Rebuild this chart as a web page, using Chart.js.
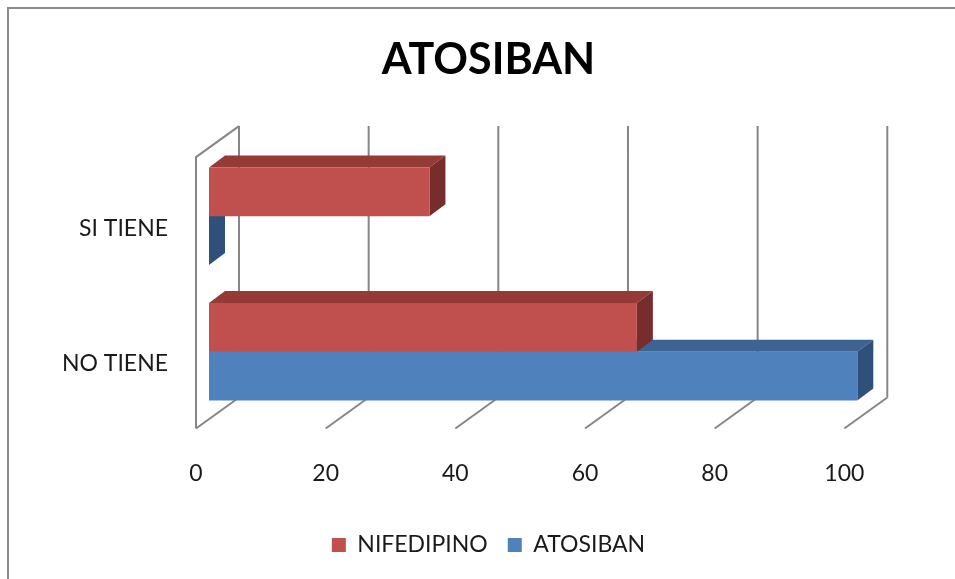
<!DOCTYPE html>
<html lang="es">
<head>
<meta charset="utf-8">
<title>ATOSIBAN</title>
<script src="https://cdn.jsdelivr.net/npm/chart.js@4/dist/chart.umd.min.js"></script>
<style>
  html, body { margin: 0; padding: 0; background: #fff; }
  #wrap { width: 955px; height: 579px; }
  canvas { display: block; }
</style>
</head>
<body>
<div id="wrap"><canvas id="chart" width="955" height="579"></canvas></div>
<script>
// Categories, series and value-axis ticks
const categories = ['SI TIENE', 'NO TIENE'];
const seriesNames = ['NIFEDIPINO', 'ATOSIBAN'];
const nifedipino = [34, 66];
const atosiban = [0, 100];
const valueTicks = [0, 20, 40, 60, 80, 100];

// Face colours for the pseudo-3D bars: front, top, side
const shades = [
  { front: '#C0504D', top: '#943A37', side: '#772D2B' },
  { front: '#4F81BD', top: '#3D6393', side: '#2F5179' }
];

// Perspective offsets (pixels)
const BAR_DX = 16, BAR_DY = -12;       // depth of each bar
const FLOOR_DX = -13;                   // front edge of the floor vs bar front plane
const WALL_DX = 30;                     // back wall vs bar front plane
const GRID_COLOR = '#868686';

const frame = {
  id: 'frame',
  beforeDraw(chart) {
    const { ctx } = chart;
    ctx.save();
    ctx.fillStyle = '#fff';
    ctx.fillRect(0, 0, chart.width, chart.height);
    ctx.strokeStyle = '#8c8c8c';
    ctx.lineWidth = 2;
    ctx.strokeRect(8, 8, chart.width + 40, chart.height + 40);
    ctx.restore();
  }
};

function poly(ctx, pts, color) {
  ctx.beginPath();
  ctx.moveTo(pts[0][0], pts[0][1]);
  for (let i = 1; i < pts.length; i++) ctx.lineTo(pts[i][0], pts[i][1]);
  ctx.closePath();
  ctx.fillStyle = color;
  ctx.fill();
}

const box3d = {
  id: 'box3d',
  beforeDatasetsDraw(chart) {
    const { ctx, chartArea: a } = chart;
    const xs = chart.scales.x;
    const frontTop = a.top + 8.5, frontBottom = a.bottom + 9;
    const backTop = a.top - 22.5, backBottom = a.bottom - 22;

    ctx.save();
    ctx.strokeStyle = GRID_COLOR;
    ctx.lineWidth = 2;
    ctx.lineCap = 'butt';
    ctx.beginPath();
    xs.ticks.forEach(t => {
      const px = xs.getPixelForValue(t.value);
      // back wall gridline
      ctx.moveTo(px + WALL_DX, backTop);
      ctx.lineTo(px + WALL_DX, backBottom);
      // floor gridline
      ctx.moveTo(px + FLOOR_DX, frontBottom);
      ctx.lineTo(px + WALL_DX, backBottom);
    });
    // side wall outline
    const x0 = xs.getPixelForValue(0);
    ctx.moveTo(x0 + FLOOR_DX, frontBottom);
    ctx.lineTo(x0 + FLOOR_DX, frontTop);
    ctx.lineTo(x0 + WALL_DX, backTop);
    ctx.stroke();

    // top and side faces, lower series first so the upper one sits over it
    for (let d = chart.data.datasets.length - 1; d >= 0; d--) {
      const meta = chart.getDatasetMeta(d);
      const c = shades[d];
      meta.data.forEach(bar => {
        const p = bar.getProps(['x', 'y', 'base', 'height'], true);
        const top = p.y - p.height / 2, bottom = p.y + p.height / 2;
        const l = Math.min(p.base, p.x), r = Math.max(p.base, p.x);
        poly(ctx, [[l, top], [r, top], [r + BAR_DX, top + BAR_DY], [l + BAR_DX, top + BAR_DY]], c.top);
        poly(ctx, [[r, top], [r + BAR_DX, top + BAR_DY], [r + BAR_DX, bottom + BAR_DY], [r, bottom]], c.side);
      });
    }
    ctx.restore();
  }
};

function build() {
  Chart.defaults.font.family = 'Lato, "Open Sans", sans-serif';
  Chart.defaults.color = '#1a1a1a';

  new Chart(document.getElementById('chart'), {
    type: 'bar',
    data: {
      labels: categories,
      datasets: [
        { label: seriesNames[0], data: nifedipino, backgroundColor: shades[0].front, borderWidth: 0 },
        { label: seriesNames[1], data: atosiban, backgroundColor: shades[1].front, borderWidth: 0 }
      ]
    },
    options: {
      indexAxis: 'y',
      responsive: false,
      animation: false,
      events: [],
      categoryPercentage: 0.72,
      barPercentage: 1.0,
      layout: { padding: { top: 8, left: 22, right: 0, bottom: 12.5 } },
      scales: {
        x: {
          type: 'linear',
          min: 0,
          max: 100,
          afterBuildTicks(s) { s.ticks = valueTicks.map(v => ({ value: v })); },
          grid: { display: false, drawTicks: false },
          border: { display: false },
          ticks: { padding: 40, labelOffset: -13, font: { size: 23 }, color: '#1a1a1a' },
          afterFit(s) { s.height = 94; }
        },
        y: {
          type: 'category',
          grid: { display: false, drawTicks: false },
          border: { display: false },
          ticks: { padding: 41, labelOffset: 12, font: { size: 23 }, color: '#1a1a1a' },
          afterFit(s) { s.width = 187; }
        },
        yRight: {
          type: 'category',
          position: 'right',
          labels: categories,
          grid: { display: false, drawTicks: false },
          border: { display: false },
          ticks: { display: false },
          afterFit(s) { s.width = 97.7; }
        }
      },
      plugins: {
        title: {
          display: true,
          text: 'ATOSIBAN',
          color: '#000',
          font: { size: 43, weight: 'bold' },
          padding: { top: 26, bottom: 63 }
        },
        legend: {
          position: 'bottom',
          labels: { boxWidth: 14, boxHeight: 14, padding: 20, font: { size: 23 }, color: '#1a1a1a' }
        },
        tooltip: { enabled: false }
      }
    },
    plugins: [frame, box3d]
  });
}

if (document.fonts && document.fonts.load) {
  Promise.all([
    document.fonts.load('23px Lato'),
    document.fonts.load('bold 43px Lato')
  ]).then(build, build);
} else {
  build();
}
</script>
</body>
</html>
